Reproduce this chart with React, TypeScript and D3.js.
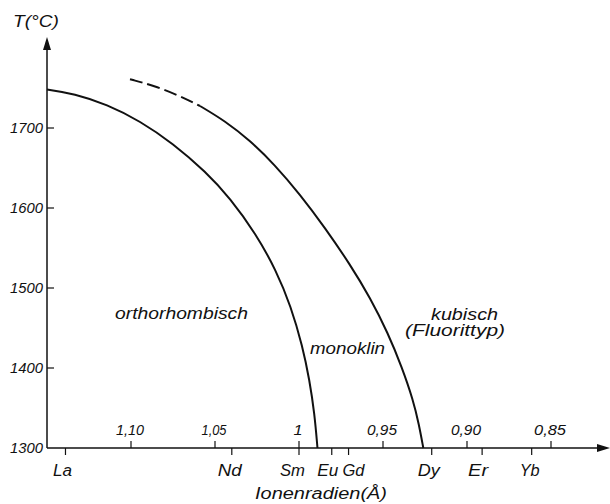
import React from 'react';
import * as d3 from 'd3';

const WIDTH = 610;
const HEIGHT = 504;
const FONT = '"Liberation Sans", Arial, sans-serif';

// Ionenradien (Å), axis runs from large to small
const radiusTicks = [1.1, 1.05, 1.0, 0.95, 0.9, 0.85];
const radiusTickLabels = ['1,10', '1,05', '1', '0,95', '0,90', '0,85'];
const tempTicks = [1300, 1400, 1500, 1600, 1700];
const elements = ['La', 'Nd', 'Sm', 'Eu', 'Gd', 'Dy', 'Er', 'Yb'];
const elementRadii = [1.139, 1.04, 1.0, 0.9805, 0.9705, 0.921, 0.891, 0.8615];

// phase boundary orthorhombisch / monoklin  [radius, T]
const boundaryOrthoMono: [number, number][] = [
  [1.15, 1748], [1.1339, 1743], [1.1143, 1729.4], [1.0946, 1708.75], [1.075, 1680.6],
  [1.0554, 1645], [1.0411, 1612.5], [1.0256, 1567.5], [1.0137, 1522.5], [1.0048, 1477],
  [0.9979, 1427], [0.99375, 1385], [0.99077, 1343], [0.989, 1300],
];

// phase boundary monoklin / kubisch, uncertain (dashed) part first
const boundaryMonoCubicDashed: [number, number][] = [
  [1.1006, 1761], [1.0857, 1752.5], [1.0708, 1740], [1.0589, 1727.5],
];
const boundaryMonoCubic: [number, number][] = [
  [1.0589, 1727.5], [1.044, 1708.75], [1.0292, 1684.4], [1.0143, 1653.75], [0.9994, 1617],
  [0.9845, 1575.3], [0.9696, 1529.4], [0.9577, 1488], [0.947, 1443.4],
  [0.9387, 1400.75], [0.9321, 1360.25], [0.9286, 1329.5], [0.926, 1300],
];

const x = d3.scaleLinear().domain([1.15, 0.85]).range([47, 551]);
const y = d3.scaleLinear().domain([1300, 1700]).range([448, 128]);

const line = d3.line<[number, number]>()
  .x(d => x(d[0]))
  .y(d => y(d[1]))
  .curve(d3.curveBasis);

export default function App() {
  const x0 = x(1.15);
  const y0 = y(1300);
  const ink = '#111';
  const textStyle = { fontFamily: FONT, fontStyle: 'italic' as const, fill: ink };
  // label nudges and widths as lettered in the drawing
  const elDx = [-3, -2, -6.5, -4, 5, -3, -4, -2];
  const elW = [19, 24, 25, 21, 22, 22, 20, 20];
  const rW = [28, 25, 9, 30, 30, 32];

  return (
    <svg
      xmlns="http://www.w3.org/2000/svg"
      width={WIDTH}
      height={HEIGHT}
      style={{ position: 'absolute', left: 0, top: 0, display: 'block', background: '#fff' }}
    >
      {/* axes */}
      <g stroke={ink} strokeWidth={1.5} fill="none">
        <line x1={x0} y1={y0} x2={x0} y2={46} />
        <line x1={x0} y1={y0} x2={600} y2={y0} />
      </g>
      <path d={`M${x0},37 L${x0 - 4},50 L${x0 + 4},50 Z`} fill={ink} />
      <path d={`M610,${y0} L597,${y0 - 4} L597,${y0 + 4} Z`} fill={ink} />

      {/* temperature ticks */}
      {tempTicks.map(t => (
        <g key={t}>
          {t > 1300 && <line x1={x0} x2={x0 + 7} y1={y(t)} y2={y(t)} stroke={ink} strokeWidth={1.2} />}
          <text x={43} y={y(t) + 5} textAnchor="end" fontSize={14} textLength={33} lengthAdjust="spacingAndGlyphs" style={textStyle}>{t}</text>
        </g>
      ))}
      <text x={13} y={27} fontSize={16} textLength={46} lengthAdjust="spacingAndGlyphs" style={textStyle}>T(°C)</text>

      {/* radius ticks above the axis */}
      {radiusTicks.map((r, i) => (
        <g key={r}>
          <line x1={x(r)} x2={x(r)} y1={y0} y2={y0 - 7} stroke={ink} strokeWidth={1.2} />
          <text x={x(r) - 1} y={435} textAnchor="middle" fontSize={15} textLength={rW[i]} lengthAdjust="spacingAndGlyphs" style={textStyle}>{radiusTickLabels[i]}</text>
        </g>
      ))}

      {/* elements below the axis */}
      {elements.map((el, i) => (
        <g key={el}>
          <line x1={x(elementRadii[i])} x2={x(elementRadii[i])} y1={y0} y2={y0 + 7} stroke={ink} strokeWidth={1.2} />
          <text x={x(elementRadii[i]) + elDx[i]} y={476} textAnchor="middle" fontSize={16} textLength={elW[i]} lengthAdjust="spacingAndGlyphs" style={textStyle}>{el}</text>
        </g>
      ))}
      <text x={321} y={499} textAnchor="middle" fontSize={16} textLength={132} lengthAdjust="spacingAndGlyphs" style={textStyle}>Ionenradien(Å)</text>

      {/* phase boundaries */}
      <g fill="none" stroke={ink} strokeWidth={2}>
        <path d={line(boundaryOrthoMono) ?? ''} />
        <path d={line(boundaryMonoCubic) ?? ''} />
        <path d={line(boundaryMonoCubicDashed) ?? ''} strokeDasharray="13,5" />
      </g>

      {/* phase labels */}
      <text x={115} y={319} fontSize={16} textLength={133} lengthAdjust="spacingAndGlyphs" style={textStyle}>orthorhombisch</text>
      <text x={310} y={354} fontSize={16} textLength={75} lengthAdjust="spacingAndGlyphs" style={textStyle}>monoklin</text>
      <text x={431} y={320} fontSize={16} textLength={67} lengthAdjust="spacingAndGlyphs" style={textStyle}>kubisch</text>
      <text x={405} y={336} fontSize={16} textLength={100} lengthAdjust="spacingAndGlyphs" style={textStyle}>(Fluorittyp)</text>
    </svg>
  );
}
